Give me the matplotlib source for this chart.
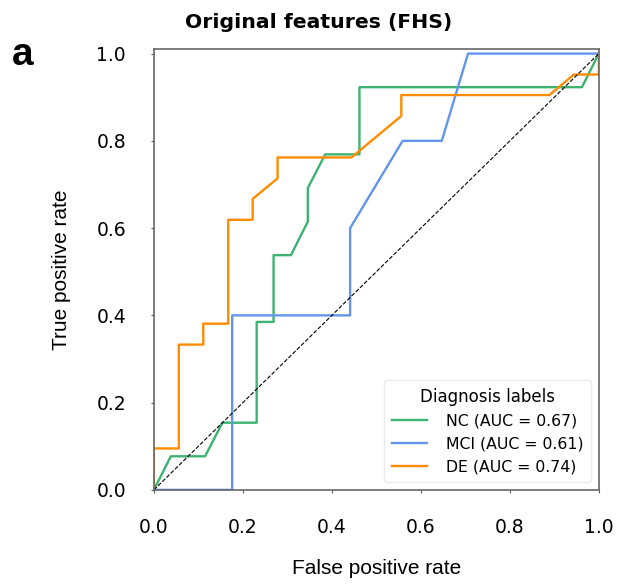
# ROC curves - original features (FHS)

import matplotlib
matplotlib.use('Agg')
from matplotlib import pyplot as plt

plt.rcParams['font.family'] = ['DejaVu Sans']

# ROC points
nc_fpr = [0, 0.038, 0.115, 0.154, 0.231, 0.231, 0.269, 0.269, 0.308, 0.346,
          0.346, 0.385, 0.462, 0.462, 0.962, 1.0]
nc_tpr = [0, 0.077, 0.077, 0.154, 0.154, 0.385, 0.385, 0.538, 0.538, 0.615,
          0.692, 0.769, 0.769, 0.923, 0.923, 1.0]

mci_fpr = [0, 0.176, 0.176, 0.441, 0.441, 0.559, 0.647, 0.706, 1.0]
mci_tpr = [0, 0, 0.4, 0.4, 0.6, 0.8, 0.8, 1.0, 1.0]

de_fpr = [0, 0, 0.056, 0.056, 0.111, 0.111, 0.167, 0.167, 0.222, 0.222,
          0.278, 0.278, 0.444, 0.556, 0.556, 0.889, 0.944, 1.0, 1.0]
de_tpr = [0, 0.095, 0.095, 0.333, 0.333, 0.381, 0.381, 0.619, 0.619, 0.667,
          0.714, 0.762, 0.762, 0.857, 0.905, 0.905, 0.952, 0.952, 1.0]

labels = ['NC', 'MCI', 'DE']
aucs = [0.67, 0.61, 0.74]
colors = ['mediumseagreen', 'cornflowerblue', 'darkorange']
ticks = [0.0, 0.2, 0.4, 0.6, 0.8, 1.0]

fig = plt.figure(figsize=(6.18, 5.86), dpi=100)
ax = fig.add_axes([0.249, 0.164, 0.720, 0.752])

curves = [(nc_fpr, nc_tpr), (mci_fpr, mci_tpr), (de_fpr, de_tpr)]
for (fpr, tpr), name, auc, c in zip(curves, labels, aucs, colors):
    ax.plot(fpr, tpr, color=c, lw=1.7,
            label='{} (AUC = {:.2f})'.format(name, auc))

ax.plot([0, 1], [0, 1], 'k--', lw=0.8)

ax.set_xlim([0, 1])
ax.set_ylim([0, 1.01])
ax.set_xticks(ticks)
ax.set_yticks(ticks)
ax.tick_params(length=2, width=0.8, pad=18, labelsize=13.5, colors='0.35',
               labelcolor='black')
for s in ax.spines.values():
    s.set_color('0.4')
    s.set_linewidth(1.2)

ax.set_xlabel('False positive rate', family='Liberation Sans', fontsize=15,
              labelpad=16)
ax.set_ylabel('True positive rate', family='Liberation Sans', fontsize=15,
              labelpad=18)

leg = ax.legend(title='Diagnosis labels', loc='lower right', fontsize=11.3,
                title_fontsize=12, handlelength=2.2, handletextpad=1.2,
                labelspacing=0.5, borderpad=0.5, borderaxespad=0.5)
leg.get_frame().set_edgecolor('0.9')

fig.suptitle('Original features (FHS)', x=0.515, y=0.978, fontsize=14.7,
             fontweight='bold')
fig.text(0.019, 0.906, 'a', family='Liberation Sans', fontsize=28,
         fontweight='bold', va='center')

fig.savefig('out.png', dpi=100)
